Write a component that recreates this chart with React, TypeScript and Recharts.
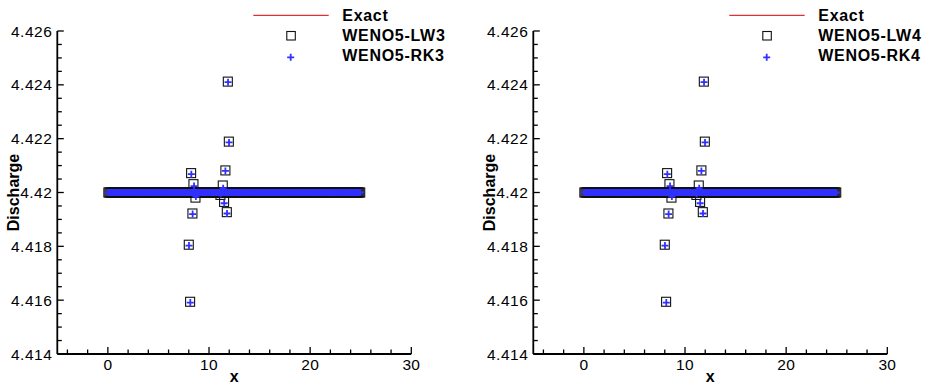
import React from "react";
import { ScatterChart, Scatter, XAxis, YAxis } from "recharts";

// ---------- data ----------
const X_TICKS = [-4, -2, 0, 2, 4, 6, 8, 10, 12, 14, 16, 18, 20, 22, 24, 26, 28, 30];
const X_LABELED = [0, 10, 20, 30];
const Y_TICKS = [
  4.414, 4.4145, 4.415, 4.4155, 4.416, 4.4165, 4.417, 4.4175, 4.418, 4.4185,
  4.419, 4.4195, 4.42, 4.4205, 4.421, 4.4215, 4.422, 4.4225, 4.423, 4.4235,
  4.424, 4.4245, 4.425, 4.4255, 4.426,
];
const Y_LABELED = [4.414, 4.416, 4.418, 4.42, 4.422, 4.424, 4.426];

// exact solution (lake at rest): constant discharge
const EXACT_Q = 4.42;
const EXACT_X = [0, 25];

// cell centres where the numerical discharge equals the exact value
const CELL_X = [
  0.05, 0.15, 0.25, 0.35, 0.45, 0.55, 0.65, 0.75, 0.85, 0.95,
  1.05, 1.15, 1.25, 1.35, 1.45, 1.55, 1.65, 1.75, 1.85, 1.95,
  2.05, 2.15, 2.25, 2.35, 2.45, 2.55, 2.65, 2.75, 2.85, 2.95,
  3.05, 3.15, 3.25, 3.35, 3.45, 3.55, 3.65, 3.75, 3.85, 3.95,
  4.05, 4.15, 4.25, 4.35, 4.45, 4.55, 4.65, 4.75, 4.85, 4.95,
  5.05, 5.15, 5.25, 5.35, 5.45, 5.55, 5.65, 5.75, 5.85, 5.95,
  6.05, 6.15, 6.25, 6.35, 6.45, 6.55, 6.65, 6.75, 6.85, 6.95,
  7.05, 7.15, 7.25, 7.35, 7.45, 7.55, 7.65, 7.75, 7.85, 7.95,
  8.05, 8.15, 8.25, 8.35, 8.45, 8.55, 8.65, 8.75, 8.85, 8.95,
  9.05, 9.15, 9.25, 9.35, 9.45, 9.55, 9.65, 9.75, 9.85, 9.95,
  10.05, 10.15, 10.25, 10.35, 10.45, 10.55, 10.65, 10.75, 10.85, 10.95,
  11.05, 11.15, 11.25, 11.35, 11.45, 11.55, 11.65, 11.75, 11.85, 11.95,
  12.05, 12.15, 12.25, 12.35, 12.45, 12.55, 12.65, 12.75, 12.85, 12.95,
  13.05, 13.15, 13.25, 13.35, 13.45, 13.55, 13.65, 13.75, 13.85, 13.95,
  14.05, 14.15, 14.25, 14.35, 14.45, 14.55, 14.65, 14.75, 14.85, 14.95,
  15.05, 15.15, 15.25, 15.35, 15.45, 15.55, 15.65, 15.75, 15.85, 15.95,
  16.05, 16.15, 16.25, 16.35, 16.45, 16.55, 16.65, 16.75, 16.85, 16.95,
  17.05, 17.15, 17.25, 17.35, 17.45, 17.55, 17.65, 17.75, 17.85, 17.95,
  18.05, 18.15, 18.25, 18.35, 18.45, 18.55, 18.65, 18.75, 18.85, 18.95,
  19.05, 19.15, 19.25, 19.35, 19.45, 19.55, 19.65, 19.75, 19.85, 19.95,
  20.05, 20.15, 20.25, 20.35, 20.45, 20.55, 20.65, 20.75, 20.85, 20.95,
  21.05, 21.15, 21.25, 21.35, 21.45, 21.55, 21.65, 21.75, 21.85, 21.95,
  22.05, 22.15, 22.25, 22.35, 22.45, 22.55, 22.65, 22.75, 22.85, 22.95,
  23.05, 23.15, 23.25, 23.35, 23.45, 23.55, 23.65, 23.75, 23.85, 23.95,
  24.05, 24.15, 24.25, 24.35, 24.45, 24.55, 24.65, 24.75, 24.85, 24.95,
];

// cells near the bump where the discharge deviates
const LW3_OUT_X = [11.86, 11.96, 11.62, 8.23, 8.46, 11.36, 8.66, 11.13, 11.49, 8.36, 11.76, 8.0, 8.13];
const LW3_OUT_Y = [4.42412, 4.42189, 4.42082, 4.42072, 4.42031, 4.42026, 4.41981, 4.41991, 4.41965, 4.41922, 4.41927, 4.41806, 4.41594];
const RK3_OUT_X = [11.88, 11.98, 11.62, 8.25, 8.52, 11.4, 8.7, 11.15, 11.5, 8.38, 11.78, 8.02, 8.15];
const RK3_OUT_Y = [4.42410, 4.42186, 4.42080, 4.42068, 4.42024, 4.42016, 4.41985, 4.41995, 4.41960, 4.41920, 4.41922, 4.41803, 4.41591];

const LW4_OUT_X = [11.86, 11.96, 11.62, 8.23, 8.46, 11.36, 8.66, 11.13, 11.49, 8.36, 11.76, 8.0, 8.13];
const LW4_OUT_Y = [4.42412, 4.42189, 4.42082, 4.42072, 4.42031, 4.42026, 4.41981, 4.41991, 4.41965, 4.41922, 4.41927, 4.41806, 4.41594];
const RK4_OUT_X = [11.88, 11.98, 11.62, 8.25, 8.52, 11.4, 8.7, 11.15, 11.5, 8.38, 11.78, 8.02, 8.15];
const RK4_OUT_Y = [4.42410, 4.42186, 4.42080, 4.42068, 4.42024, 4.42016, 4.41985, 4.41995, 4.41960, 4.41920, 4.41922, 4.41803, 4.41591];

// ---------- style / layout ----------
const FONT = '"Liberation Sans", Arial, Helvetica, sans-serif';
const H = 385;
const PLOT_TOP = 31;
const PLOT_RIGHT = 411.3;
const Y_AXIS_W = 57.3;
const X_AXIS_H = 31;
const PLUS_COLOR = "#3030ff";

const XTick = (props: any) => {
  const { x, y, payload } = props;
  const v = payload.value;
  const major = X_LABELED.includes(v);
  return (
    <g>
      <line x1={x} x2={x} y1={y} y2={y - (major ? 7 : 4.5)} stroke="#000" strokeWidth={1.3} />
      {major && (
        <text x={x} y={y + 16} textAnchor="middle" fontSize={15.5} fontFamily={FONT} fill="#000" letterSpacing={0.3}>
          {String(v)}
        </text>
      )}
    </g>
  );
};

const YTick = (props: any) => {
  const { x, y, payload } = props;
  const v = payload.value;
  const major = Y_LABELED.includes(v);
  return (
    <g>
      <line x1={x} x2={x + (major ? 6.5 : 4.5)} y1={y} y2={y} stroke="#000" strokeWidth={1.3} />
      {major && (
        <text x={x - 5} y={y + 5.5} textAnchor="end" fontSize={15.5} fontFamily={FONT} fill="#000" letterSpacing={0.5}>
          {String(v)}
        </text>
      )}
    </g>
  );
};

const SquareShape = (p: any) => (
  <rect x={p.cx - 4.5} y={p.cy - 4.5} width={9} height={9} fill="none" stroke="#111" strokeWidth={1.1} />
);
const PlusShape = (p: any) => (
  <path d={`M${p.cx - 3.5},${p.cy}h7M${p.cx},${p.cy - 3.5}v7`} stroke={PLUS_COLOR} strokeWidth={1.8} fill="none" />
);
const NoShape = () => <g />;

type PanelProps = {
  left: number;
  width: number;
  lwName: string;
  rkName: string;
  lwX: number[];
  lwY: number[];
  rkX: number[];
  rkY: number[];
};

function Panel({ left, width, lwName, rkName, lwX, lwY, rkX, rkY }: PanelProps) {
  const exactData = EXACT_X.map((x) => ({ x, y: EXACT_Q }));
  const lwData = [...CELL_X.map((x) => ({ x, y: EXACT_Q })), ...lwX.map((x, i) => ({ x, y: lwY[i] }))];
  const rkData = [...CELL_X.map((x) => ({ x, y: EXACT_Q })), ...rkX.map((x, i) => ({ x, y: rkY[i] }))];
  const plotCx = (Y_AXIS_W + PLOT_RIGHT) / 2;
  const plotCy = PLOT_TOP + (H - X_AXIS_H - PLOT_TOP) / 2;
  return (
    <div style={{ position: "absolute", left, top: 0, width, height: H }}>
      <ScatterChart
        width={width}
        height={H}
        margin={{ top: PLOT_TOP, right: width - PLOT_RIGHT, bottom: 0, left: 0 }}
      >
        <XAxis
          type="number"
          dataKey="x"
          domain={[-5, 30]}
          ticks={X_TICKS}
          interval={0}
          tick={(p: any) => <XTick {...p} />}
          tickSize={0}
          tickMargin={0}
          tickLine={false}
          axisLine={{ stroke: "#000", strokeWidth: 1.8 }}
          height={X_AXIS_H}
          allowDataOverflow
        />
        <YAxis
          type="number"
          dataKey="y"
          domain={[4.414, 4.426]}
          ticks={Y_TICKS}
          interval={0}
          tick={(p: any) => <YTick {...p} />}
          tickSize={0}
          tickMargin={0}
          tickLine={false}
          axisLine={{ stroke: "#000", strokeWidth: 1.8 }}
          width={Y_AXIS_W}
          allowDataOverflow
        />
        <Scatter name="Exact" data={exactData} line={{ stroke: "#d00000", strokeWidth: 1 }} shape={NoShape} isAnimationActive={false} />
        <Scatter name={lwName} data={lwData} shape={SquareShape} isAnimationActive={false} />
        <Scatter name={rkName} data={rkData} shape={PlusShape} isAnimationActive={false} />
      </ScatterChart>
      <svg
        width={width}
        height={H}
        style={{ position: "absolute", left: 0, top: 0, pointerEvents: "none" }}
      >
        {/* legend */}
        <line x1={253.3} x2={328.7} y1={15.3} y2={15.3} stroke="#d00000" strokeWidth={1} />
        <rect x={286.8} y={31.5} width={8.5} height={8.5} fill="none" stroke="#111" strokeWidth={1.1} />
        <path d={`M287.2,57.3h7M290.7,53.8v7`} stroke={PLUS_COLOR} strokeWidth={1.8} fill="none" />
        <g fontFamily={FONT} fontWeight="bold" fontSize={16} fill="#000" letterSpacing={0.7}>
          <text x={342.3} y={20.7}>Exact</text>
          <text x={342.3} y={40.7}>{lwName}</text>
          <text x={342.3} y={60.7}>{rkName}</text>
        </g>
        {/* axis titles */}
        <text x={plotCx} y={382.3} textAnchor="middle" fontFamily={FONT} fontWeight="bold" fontSize={16} fill="#000">
          x
        </text>
        <text
          x={19}
          y={plotCy}
          textAnchor="middle"
          transform={`rotate(-90, 19, ${plotCy})`}
          fontFamily={FONT}
          fontWeight="bold"
          fontSize={16}
          fill="#000"
        >
          Discharge
        </text>
      </svg>
    </div>
  );
}

export default function App() {
  return (
    <div style={{ position: "absolute", left: 0, top: 0, width: 928, height: H, background: "#fff", overflow: "hidden" }}>
      <Panel left={0} width={464} lwName="WENO5-LW3" rkName="WENO5-RK3" lwX={LW3_OUT_X} lwY={LW3_OUT_Y} rkX={RK3_OUT_X} rkY={RK3_OUT_Y} />
      <Panel left={476} width={452} lwName="WENO5-LW4" rkName="WENO5-RK4" lwX={LW4_OUT_X} lwY={LW4_OUT_Y} rkX={RK4_OUT_X} rkY={RK4_OUT_Y} />
    </div>
  );
}
